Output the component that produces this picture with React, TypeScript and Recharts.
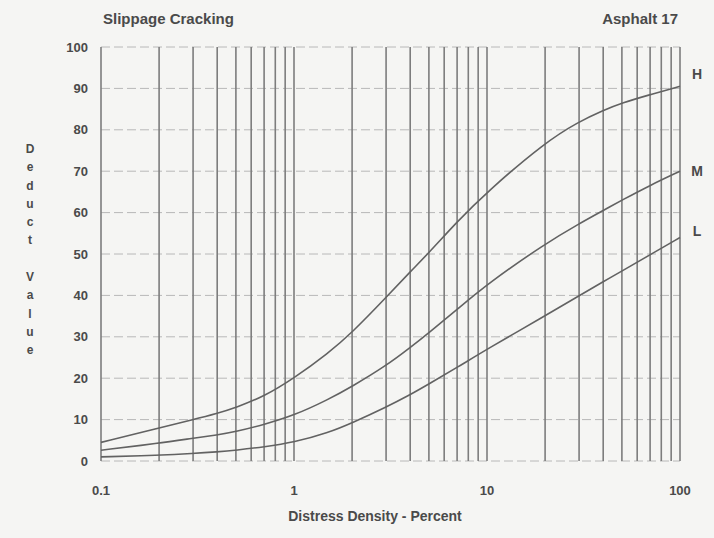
import { LineChart, Line, XAxis, YAxis, CartesianGrid, ReferenceLine } from "recharts";

// distress density (%) sample points
const density = [0.1, 0.2, 0.3, 0.4, 0.5, 0.7, 1, 1.5, 2, 3, 4, 5, 7, 10, 20, 30, 40, 50, 70, 100];
const highValues = [4.5, 8, 10, 11.5, 12.9, 15.6, 20, 26, 31, 39.5, 45.7, 50.3, 57.8, 65, 77, 82, 84.7, 86.5, 88.5, 90.5];
const mediumValues = [2.6, 4.3, 5.5, 6.3, 7.1, 8.8, 11, 14.8, 18, 23, 27.4, 31, 36.6, 42.7, 52.5, 57.3, 60.5, 63, 66.6, 70];
const lowValues = [1, 1.4, 1.8, 2.2, 2.6, 3.4, 4.5, 6.8, 9.2, 13, 16, 18.6, 22.6, 27, 35.1, 39.9, 43.3, 45.9, 49.8, 54];

const xTicks = [0.1, 1, 10, 100];
const yTicks = [0, 10, 20, 30, 40, 50, 60, 70, 80, 90, 100];
const gridX = [
  0.1, 0.2, 0.3, 0.4, 0.5, 0.6, 0.7, 0.8, 0.9,
  1, 2, 3, 4, 5, 6, 7, 8, 9,
  10, 20, 30, 40, 50, 60, 70, 80, 90, 100,
];
const yLabel = ["D", "e", "d", "u", "c", "t", "", "V", "a", "l", "u", "e"];

const data = density.map((d, i) => ({
  x: d,
  H: highValues[i],
  M: mediumValues[i],
  L: lowValues[i],
}));

const ink = "#4a4a4a";
const font = "'Liberation Sans', Arial, sans-serif";

function endLabel(name: string, dy: number) {
  return (props: any) => {
    if (props.index !== data.length - 1) return null;
    return (
      <text
        x={props.x + 17}
        y={props.y + dy}
        fill={ink}
        fontSize={14}
        fontWeight={700}
        fontFamily={font}
        textAnchor="middle"
        dominantBaseline="central"
      >
        {name}
      </text>
    );
  };
}

export default function App() {
  return (
    <div
      style={{
        position: "relative",
        width: 714,
        height: 538,
        background: "#f5f5f3",
        fontFamily: font,
        color: ink,
      }}
    >
      <style>{"body{margin:0}"}</style>
      <div style={{ position: "absolute", left: 103, top: 10, fontSize: 15, fontWeight: 600 }}>
        Slippage Cracking
      </div>
      <div style={{ position: "absolute", right: 36, top: 10, fontSize: 15, fontWeight: 600 }}>
        Asphalt 17
      </div>
      <div
        style={{
          position: "absolute",
          left: 22,
          top: 140,
          width: 16,
          textAlign: "center",
          fontSize: 12,
          fontWeight: 700,
          lineHeight: "18.3px",
        }}
      >
        {yLabel.map((c, i) => (
          <div key={i} style={{ height: 18.3 }}>{c}</div>
        ))}
      </div>
      <div
        style={{
          position: "absolute",
          left: 0,
          width: 750,
          top: 508,
          textAlign: "center",
          fontSize: 14,
          fontWeight: 600,
        }}
      >
        Distress Density - Percent
      </div>
      <LineChart
        width={714}
        height={538}
        data={data}
        margin={{ top: 47, right: 34, left: 41, bottom: 47 }}
        style={{ position: "absolute", left: 0, top: 0 }}
      >
        <CartesianGrid vertical={false} stroke="#b8b8b8" strokeDasharray="9 4" />
        {gridX.map((v) => (
          <ReferenceLine key={v} x={v} stroke="#7d7d7d" strokeWidth={1.6} />
        ))}
        <XAxis
          dataKey="x"
          type="number"
          scale="log"
          domain={[0.1, 100]}
          ticks={xTicks}
          axisLine={false}
          tickLine={false}
          tickMargin={19}
          height={30}
          tick={{ fill: ink, fontSize: 13, fontWeight: 600, fontFamily: font }}
        />
        <YAxis
          type="number"
          domain={[0, 100]}
          ticks={yTicks}
          axisLine={false}
          tickLine={false}
          tickMargin={7}
          width={60}
          tick={{ fill: ink, fontSize: 13, fontWeight: 600, fontFamily: font }}
        />
        <Line dataKey="H" type="basis" stroke="#626262" strokeWidth={1.6} dot={false} isAnimationActive={false} label={endLabel("H", -12)} />
        <Line dataKey="M" type="basis" stroke="#626262" strokeWidth={1.6} dot={false} isAnimationActive={false} label={endLabel("M", 0)} />
        <Line dataKey="L" type="basis" stroke="#626262" strokeWidth={1.6} dot={false} isAnimationActive={false} label={endLabel("L", -6)} />
      </LineChart>
    </div>
  );
}
